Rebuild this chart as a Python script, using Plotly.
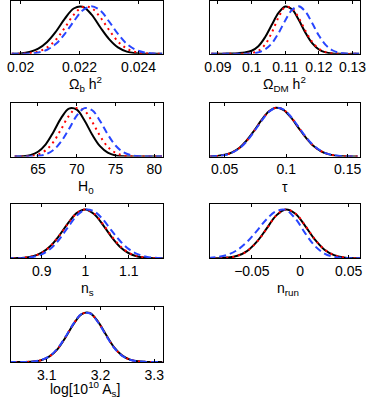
import plotly.graph_objects as go
from plotly.subplots import make_subplots

# Omega_b h^2
ob_x = [0.0197, 0.0200, 0.0203, 0.0206, 0.0209, 0.0212, 0.0215, 0.0218, 0.0221,
        0.0224, 0.0227, 0.0230, 0.0233, 0.0236, 0.0239, 0.0242, 0.0245, 0.0248]
ob_black = [0.002, 0.010, 0.040, 0.110, 0.25, 0.47, 0.74, 0.953, 0.989,
            0.83, 0.56, 0.31, 0.135, 0.048, 0.014, 0.003, 0.0005, 0.0]
ob_red = [0.001, 0.004, 0.015, 0.050, 0.135, 0.30, 0.55, 0.82, 0.984,
          0.964, 0.77, 0.50, 0.26, 0.11, 0.039, 0.011, 0.003, 0.0]
ob_blue = [0.0, 0.002, 0.008, 0.030, 0.087, 0.21, 0.42, 0.68, 0.91,
           1.0, 0.91, 0.68, 0.42, 0.21, 0.087, 0.030, 0.008, 0.002]

# Omega_DM h^2
odm_x = [0.088, 0.090, 0.092, 0.094, 0.096, 0.098, 0.100, 0.102, 0.104, 0.106, 0.108, 0.110,
         0.112, 0.114, 0.116, 0.118, 0.120, 0.122, 0.124, 0.126, 0.128, 0.130, 0.132]
odm_black = [0.001, 0.003, 0.005, 0.008, 0.015, 0.030, 0.065, 0.16, 0.35, 0.61, 0.86, 0.996,
             0.937, 0.715, 0.445, 0.224, 0.092, 0.031, 0.008, 0.002, 0.0, 0.0, 0.0]
odm_red = [0.0, 0.0, 0.0, 0.0, 0.0, 0.003, 0.015, 0.063, 0.194, 0.446, 0.766, 0.982,
           0.957, 0.755, 0.487, 0.252, 0.108, 0.037, 0.010, 0.002, 0.0, 0.0, 0.0]
odm_blue = [0.0, 0.0, 0.0, 0.0, 0.0, 0.002, 0.009, 0.032, 0.093, 0.22, 0.435, 0.70,
            0.923, 0.999, 0.887, 0.647, 0.386, 0.19, 0.076, 0.025, 0.007, 0.002, 0.0]

# H_0
h0_x = [62, 63, 64, 65, 66, 67, 68, 69, 70, 71, 72, 73, 74, 75, 76, 77, 78, 79, 80, 81]
h0_black = [0.0015, 0.008, 0.031, 0.099, 0.252, 0.504, 0.79, 0.98, 0.958, 0.737,
            0.447, 0.213, 0.081, 0.024, 0.006, 0.001, 0.0, 0.0, 0.0, 0.0]
h0_red = [0.0, 0.003, 0.012, 0.044, 0.13, 0.30, 0.564, 0.836, 0.993, 0.938,
          0.708, 0.424, 0.20, 0.078, 0.024, 0.006, 0.001, 0.0, 0.0, 0.0]
h0_blue = [0.0, 0.001, 0.003, 0.014, 0.047, 0.135, 0.31, 0.564, 0.835, 0.99,
           0.947, 0.73, 0.454, 0.227, 0.091, 0.030, 0.008, 0.002, 0.0, 0.0]

# tau
tau_x = [0.038, 0.044, 0.050, 0.056, 0.062, 0.068, 0.074, 0.080, 0.086, 0.092, 0.098,
         0.104, 0.110, 0.116, 0.122, 0.128, 0.134, 0.140, 0.146, 0.152, 0.158]
tau_black = [0.004, 0.013, 0.036, 0.087, 0.18, 0.334, 0.533, 0.75, 0.926, 1.0, 0.95,
             0.794, 0.588, 0.386, 0.22, 0.113, 0.051, 0.020, 0.007, 0.002, 0.0]
tau_red = [0.004, 0.012, 0.035, 0.084, 0.176, 0.325, 0.525, 0.741, 0.92, 0.999, 0.954,
           0.802, 0.598, 0.393, 0.226, 0.116, 0.053, 0.021, 0.007, 0.002, 0.0]
tau_blue = [0.004, 0.012, 0.033, 0.081, 0.171, 0.316, 0.516, 0.732, 0.914, 0.998, 0.958,
            0.81, 0.607, 0.40, 0.233, 0.12, 0.055, 0.022, 0.008, 0.002, 0.0]

# n_s
ns_x = [0.82, 0.84, 0.86, 0.88, 0.90, 0.92, 0.94, 0.96, 0.98, 1.00,
        1.02, 1.04, 1.06, 1.08, 1.10, 1.12, 1.14, 1.16, 1.18]
ns_black = [0.001, 0.004, 0.014, 0.043, 0.115, 0.252, 0.463, 0.714, 0.923, 1.0,
            0.907, 0.69, 0.44, 0.233, 0.104, 0.039, 0.012, 0.003, 0.0]
ns_red = [0.001, 0.004, 0.015, 0.044, 0.114, 0.25, 0.458, 0.705, 0.917, 1.0,
          0.917, 0.705, 0.458, 0.25, 0.114, 0.044, 0.015, 0.004, 0.001]
ns_blue = [0.0, 0.002, 0.008, 0.029, 0.083, 0.195, 0.385, 0.632, 0.868, 0.994,
           0.959, 0.80, 0.57, 0.354, 0.188, 0.087, 0.034, 0.012, 0.003]

# n_run
nr_x = [-0.095, -0.085, -0.075, -0.065, -0.055, -0.045, -0.035, -0.025, -0.015,
        -0.005, 0.005, 0.015, 0.025, 0.035, 0.045, 0.055, 0.065]
nr_black = [0.001, 0.003, 0.015, 0.052, 0.149, 0.335, 0.60, 0.873, 0.999,
            0.912, 0.665, 0.386, 0.177, 0.066, 0.019, 0.004, 0.001]
nr_red = [0.001, 0.003, 0.014, 0.050, 0.145, 0.329, 0.594, 0.869, 0.998,
          0.917, 0.672, 0.392, 0.181, 0.068, 0.020, 0.004, 0.001]
nr_blue = [0.009, 0.028, 0.074, 0.171, 0.334, 0.557, 0.794, 0.962, 0.989,
           0.81, 0.516, 0.256, 0.099, 0.030, 0.007, 0.001, 0.0]

# log[10^10 A_s]
as_x = [3.030, 3.045, 3.060, 3.075, 3.090, 3.105, 3.120, 3.135, 3.150, 3.165,
        3.180, 3.195, 3.210, 3.225, 3.240, 3.255, 3.270, 3.285, 3.300, 3.315]
as_black = [0.0, 0.001, 0.003, 0.011, 0.039, 0.113, 0.26, 0.498, 0.766, 0.963,
            0.984, 0.815, 0.552, 0.301, 0.135, 0.050, 0.015, 0.004, 0.001, 0.0]
as_red = [0.0, 0.001, 0.003, 0.012, 0.040, 0.116, 0.265, 0.503, 0.77, 0.965,
          0.982, 0.81, 0.546, 0.296, 0.132, 0.048, 0.014, 0.004, 0.001, 0.0]
as_blue = [0.0, 0.001, 0.004, 0.013, 0.043, 0.121, 0.272, 0.511, 0.776, 0.967,
           0.98, 0.804, 0.54, 0.291, 0.129, 0.047, 0.014, 0.004, 0.001, 0.0]

panels = [
    (ob_x, ob_black, ob_red, ob_blue, [0.01967, 0.02482],
     [0.02, 0.022, 0.024], ["0.02", "0.022", "0.024"], "Ω<sub>b</sub> h<sup>2</sup>"),
    (odm_x, odm_black, odm_red, odm_blue, [0.0877, 0.1323],
     [0.09, 0.1, 0.11, 0.12, 0.13], ["0.09", "0.1", "0.11", "0.12", "0.13"],
     "Ω<sub>DM</sub> h<sup>2</sup>"),
    (h0_x, h0_black, h0_red, h0_blue, [61.5, 81.1],
     [65, 70, 75, 80], ["65", "70", "75", "80"], "H<sub>0</sub>"),
    (tau_x, tau_black, tau_red, tau_blue, [0.0382, 0.1602],
     [0.05, 0.1, 0.15], ["0.05", "0.1", "0.15"], "τ"),
    (ns_x, ns_black, ns_red, ns_blue, [0.829, 1.178],
     [0.9, 1.0, 1.1], ["0.9", "1", "1.1"], "n<sub>s</sub>"),
    (nr_x, nr_black, nr_red, nr_blue, [-0.093, 0.062],
     [-0.05, 0, 0.05], ["−0.05", "0", "0.05"], "n<sub>run</sub>"),
    (as_x, as_black, as_red, as_blue, [3.033, 3.316],
     [3.1, 3.2, 3.3], ["3.1", "3.2", "3.3"], "log[10<sup>10</sup> A<sub>s</sub>]"),
]

W, H = 374, 397
col_px = [(5, 162), (211, 366)]
row_px = [(0.5, 53), (102, 156), (204, 258), (307, 362)]
# title centre (x px, y px) per panel
title_px = [(82, 83), (288, 83), (83, 186), (288, 186), (84, 289), (291, 289), (82, 389)]

fig = make_subplots(rows=4, cols=2,
                    specs=[[{}, {}], [{}, {}], [{}, {}], [{}, None]])

font = dict(family="Liberation Sans, Arial", size=14, color="black")
annotations = []
for i, (x, yb, yr, yblue, rng, tv, tt, title) in enumerate(panels):
    r, c = i // 2 + 1, i % 2 + 1
    fig.add_trace(go.Scatter(x=x, y=yb, mode="lines", line_shape="spline",
                             line=dict(color="black", width=2)), row=r, col=c)
    fig.add_trace(go.Scatter(x=x, y=yr, mode="lines", line_shape="spline",
                             line=dict(color="red", width=2, dash="2px,4px")), row=r, col=c)
    fig.add_trace(go.Scatter(x=x, y=yblue, mode="lines", line_shape="spline",
                             line=dict(color="rgb(40,70,255)", width=2, dash="7px,4px")),
                  row=r, col=c)
    x0, x1 = col_px[c - 1]
    y0, y1 = row_px[r - 1]
    fig.update_xaxes(domain=[x0 / W, x1 / W], range=rng, tickvals=tv, ticktext=tt,
                     ticks="inside", ticklen=3, tickcolor="black", showline=True,
                     mirror="ticks", linecolor="black", linewidth=1, showgrid=False,
                     zeroline=False, tickfont=font, row=r, col=c)
    fig.update_yaxes(domain=[1 - y1 / H, 1 - y0 / H], range=[0, 1.1], showticklabels=False,
                     ticks="", showline=True, mirror=True, linecolor="black", linewidth=1,
                     showgrid=False, zeroline=False, row=r, col=c)
    tx, ty = title_px[i]
    annotations.append(dict(text=title, x=tx / W, y=1 - ty / H, xref="paper", yref="paper",
                            xanchor="center", yanchor="middle", showarrow=False, font=font))

fig.update_layout(width=W, height=H, margin=dict(l=0, r=0, t=0, b=0),
                  plot_bgcolor="white", paper_bgcolor="white", showlegend=False,
                  annotations=annotations)
fig.write_html("out.html", config={"displayModeBar": False},
               post_script="document.body.style.margin='0';"
                           "document.body.style.overflow='hidden';")
